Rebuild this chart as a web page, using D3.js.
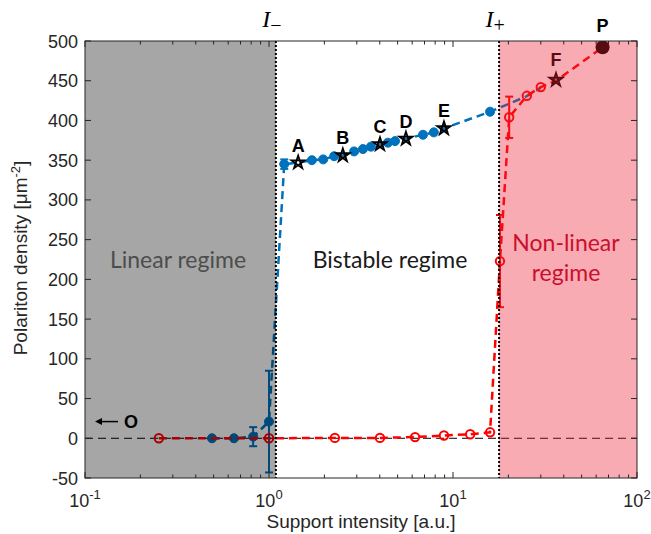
<!DOCTYPE html>
<html><head><meta charset="utf-8">
<script src="https://cdn.jsdelivr.net/npm/d3@7"></script>
<style>body{margin:0;background:#fff}</style>
</head><body><svg id="c" width="651" height="534"></svg>
<script>
// ---- data ----
const blueX = [0.49, 0.645, 0.82, 1.0, 1.21, 1.44, 1.71, 1.97, 2.26, 2.52, 2.90, 3.24, 3.58, 4.01, 4.43, 4.84, 5.55, 6.87, 7.87, 8.93, 15.9, 24.9, 30.0];
const blueY = [0, 0, 2, 21, 345, 347, 350, 351, 355, 356, 361, 364, 367, 370, 372, 374, 377, 382, 385, 390, 411, 430, 441];
const blueErr = [0, 0, 12, 64, 6, 0, 0, 0, 0, 0, 0, 0, 0, 0, 0, 0, 0, 0, 0, 0, 0, 0, 0];
const blueMarker = [1,1,1,1,1,0,1,1,1,0,1,1,1,0,1,1,0,1,1,0,1,0,0];
const redX = [0.252, 1.0, 2.28, 4.01, 6.22, 8.93, 12.4, 15.9, 18.0, 20.2, 25.2, 30.0, 36.3, 65];
const redY = [0, 0, 0.5, 0.5, 1.5, 3.5, 5, 7.5, 223, 404, 431, 442, 450, 492];
const redErr = [0, 0, 0, 0, 0, 0, 0, 0, 58, 26, 0, 0, 0, 0];
const redMarker = [1,1,1,1,1,1,1,1,1,1,1,1,0,0];
const starNames = ["A", "B", "C", "D", "E", "F"];
const starX = [1.44, 2.52, 4.01, 5.55, 8.93, 36.3];
const starY = [347, 356, 370, 377, 390, 451];
const pointP = {name: "P", x: 65, y: 492};
const Iminus = 1.09, Iplus = 17.8;
const xMajor = [0.1, 1, 10, 100];
const xExp = ["-1", "0", "1", "2"];
const yTicks = [-50, 0, 50, 100, 150, 200, 250, 300, 350, 400, 450, 500];

// ---- layout ----
const L = 85, R = 637, T = 41, B = 478;
const x = d3.scaleLog().domain([0.1, 100]).range([L, R]);
const y = d3.scaleLinear().domain([-50, 500]).range([B, T]);
const svg = d3.select("#c");
const ax = "#262626";
const BLUE = "#0072BD", RED = "#FF0000";
const font = "'Liberation Sans', Arial, Helvetica, sans-serif";

svg.append("defs").append("clipPath").attr("id", "pc")
  .append("rect").attr("x", L).attr("y", T).attr("width", R - L).attr("height", B - T);
const g = svg.append("g").attr("clip-path", "url(#pc)");

// zero line
g.append("line").attr("x1", L).attr("x2", R).attr("y1", y(0)).attr("y2", y(0))
  .attr("stroke", "#000").attr("stroke-width", 1).attr("stroke-dasharray", "8,5");

const line = d3.line().x(d => x(d[0])).y(d => y(d[1]));

// blue series
const bData = blueX.map((v, i) => [v, blueY[i], blueErr[i], blueMarker[i]]);
g.append("path").attr("d", line(bData)).attr("fill", "none").attr("stroke", BLUE)
  .attr("stroke-width", 2.5).attr("stroke-dasharray", "8,5");
bData.filter(d => d[2] > 0).forEach(d => {
  const eg = g.append("g").attr("stroke", BLUE).attr("stroke-width", 2);
  eg.append("line").attr("x1", x(d[0])).attr("x2", x(d[0])).attr("y1", y(d[1] - d[2])).attr("y2", y(d[1] + d[2]));
  [d[1] - d[2], d[1] + d[2]].forEach(v => eg.append("line").attr("x1", x(d[0]) - 4).attr("x2", x(d[0]) + 4).attr("y1", y(v)).attr("y2", y(v)));
});
g.selectAll(".bm").data(bData.filter(d => d[3])).join("circle")
  .attr("cx", d => x(d[0])).attr("cy", d => y(d[1])).attr("r", 4.5)
  .attr("fill", BLUE).attr("stroke", BLUE).attr("stroke-width", 1);

// red series
const rData = redX.map((v, i) => [v, redY[i], redErr[i], redMarker[i]]);
g.append("path").attr("d", line(rData)).attr("fill", "none").attr("stroke", RED)
  .attr("stroke-width", 2.5).attr("stroke-dasharray", "8,5");
rData.filter(d => d[2] > 0).forEach(d => {
  const eg = g.append("g").attr("stroke", RED).attr("stroke-width", 2);
  eg.append("line").attr("x1", x(d[0])).attr("x2", x(d[0])).attr("y1", y(d[1] - d[2])).attr("y2", y(d[1] + d[2]));
  [d[1] - d[2], d[1] + d[2]].forEach(v => eg.append("line").attr("x1", x(d[0]) - 4).attr("x2", x(d[0]) + 4).attr("y1", y(v)).attr("y2", y(v)));
});
g.selectAll(".rm").data(rData.filter(d => d[3])).join("circle")
  .attr("cx", d => x(d[0])).attr("cy", d => y(d[1])).attr("r", 4.2)
  .attr("fill", "none").attr("stroke", RED).attr("stroke-width", 2);

// stars
function starPath(cx, cy, r) {
  let p = "";
  for (let k = 0; k < 5; k++) {
    const a = (-90 + 144 * k) * Math.PI / 180;
    p += (k ? "L" : "M") + (cx + r * Math.cos(a)).toFixed(2) + "," + (cy + r * Math.sin(a)).toFixed(2);
  }
  return p + "Z";
}
starX.forEach((v, i) => {
  g.append("path").attr("d", starPath(x(v), y(starY[i]), 7))
    .attr("fill", "none").attr("stroke", "#000").attr("stroke-width", 1.8).attr("stroke-linejoin", "miter");
  svg.append("text").attr("x", x(v)).attr("y", y(starY[i]) - (i === 5 ? 14 : 11))
    .attr("text-anchor", "middle").attr("font-family", font).attr("font-weight", "bold")
    .attr("font-size", 18).attr("fill", "#000").text(starNames[i]);
});
// P
g.append("circle").attr("cx", x(pointP.x)).attr("cy", y(pointP.y)).attr("r", 7).attr("fill", "#000");

// overlays (semi-transparent regions)
const ov = svg.append("g");
ov.append("rect").attr("x", L).attr("y", T).attr("width", x(Iminus) - L).attr("height", B - T)
  .attr("fill", "rgba(0,0,0,0.35)");
ov.append("rect").attr("x", x(Iplus)).attr("y", T).attr("width", R - x(Iplus)).attr("height", B - T)
  .attr("fill", "rgba(239,30,51,0.373)");

// P label (outside plot)
svg.append("text").attr("x", x(pointP.x)).attr("y", y(pointP.y) - 15)
  .attr("text-anchor", "middle").attr("font-family", font).attr("font-weight", "bold")
  .attr("font-size", 18).attr("fill", "#000").text(pointP.name);

// threshold lines
[Iminus, Iplus].forEach(v => svg.append("line").attr("x1", x(v)).attr("x2", x(v)).attr("y1", T).attr("y2", B)
  .attr("stroke", "#000").attr("stroke-width", 2).attr("stroke-dasharray", "2,2"));

// O arrow
const oy = y(21);
svg.append("line").attr("x1", L + 14).attr("x2", L + 33).attr("y1", oy).attr("y2", oy).attr("stroke", "#000").attr("stroke-width", 1.5);
svg.append("path").attr("d", `M${L + 10},${oy} L${L + 17},${oy - 3.5} L${L + 17},${oy + 3.5} Z`).attr("fill", "#000");
svg.append("text").attr("x", L + 39).attr("y", oy + 6.5).attr("font-family", font).attr("font-weight", "bold")
  .attr("font-size", 18).attr("fill", "#000").text("O");

// regime labels
const rf = "Lato, 'Open Sans', sans-serif";
svg.append("text").attr("x", 178).attr("y", 268).attr("text-anchor", "middle").attr("font-family", rf)
  .attr("font-size", 23).attr("fill", "#4d4d4d").text("Linear regime");
svg.append("text").attr("x", 390).attr("y", 268).attr("text-anchor", "middle").attr("font-family", rf)
  .attr("font-size", 23).attr("fill", "#1a1a1a").text("Bistable regime");
const nl = svg.append("text").attr("x", 566).attr("text-anchor", "middle").attr("font-family", rf)
  .attr("font-size", 23).attr("fill", "#c8102e");
nl.append("tspan").attr("x", 566).attr("y", 251).text("Non-linear");
nl.append("tspan").attr("x", 566).attr("y", 281).text("regime");

// axes box
svg.append("rect").attr("x", L).attr("y", T).attr("width", R - L).attr("height", B - T)
  .attr("fill", "none").attr("stroke", ax).attr("stroke-width", 1);
// y ticks
yTicks.forEach(v => {
  svg.append("line").attr("x1", L).attr("x2", L + 6).attr("y1", y(v)).attr("y2", y(v)).attr("stroke", ax);
  svg.append("line").attr("x1", R).attr("x2", R - 6).attr("y1", y(v)).attr("y2", y(v)).attr("stroke", ax);
  svg.append("text").attr("x", L - 7).attr("y", y(v) + 6.5).attr("text-anchor", "end").attr("font-family", font)
    .attr("font-size", 18).attr("fill", ax).text(v);
});
// x ticks
xMajor.forEach((v, i) => {
  svg.append("line").attr("x1", x(v)).attr("x2", x(v)).attr("y1", B).attr("y2", B - 6).attr("stroke", ax);
  svg.append("line").attr("x1", x(v)).attr("x2", x(v)).attr("y1", T).attr("y2", T + 6).attr("stroke", ax);
  const t = svg.append("text").attr("x", x(v)).attr("y", 507).attr("text-anchor", "middle").attr("font-family", font)
    .attr("font-size", 18).attr("fill", ax);
  t.append("tspan").text("10");
  t.append("tspan").attr("dy", -8).attr("font-size", 13).text(xExp[i]);
  if (i < 3) {
    for (let m = 2; m <= 9; m++) {
      const mv = v * m;
      svg.append("line").attr("x1", x(mv)).attr("x2", x(mv)).attr("y1", B).attr("y2", B - 3.5).attr("stroke", ax);
      svg.append("line").attr("x1", x(mv)).attr("x2", x(mv)).attr("y1", T).attr("y2", T + 3.5).attr("stroke", ax);
    }
  }
});
// axis titles
svg.append("text").attr("x", 361).attr("y", 528).attr("text-anchor", "middle").attr("font-family", font)
  .attr("font-size", 19).attr("fill", ax).text("Support intensity [a.u.]");
const yt = svg.append("text").attr("transform", `translate(27,258) rotate(-90)`).attr("text-anchor", "middle")
  .attr("font-family", font).attr("font-size", 19).attr("fill", ax);
yt.append("tspan").text("Polariton density [μm");
yt.append("tspan").attr("dy", -7).attr("font-size", 13).text("-2");
yt.append("tspan").attr("dy", 7).text("]");

// I labels
const tf = "'Liberation Serif', 'Times New Roman', serif";
[[Iminus, "−"], [Iplus, "+"]].forEach(([v, s]) => {
  const t = svg.append("text").attr("x", x(v) - 4).attr("y", 27).attr("text-anchor", "middle")
    .attr("font-family", tf).attr("font-size", 24).attr("fill", "#000");
  t.append("tspan").attr("font-style", "italic").text("I");
  t.append("tspan").attr("dy", 5).attr("font-size", 20).text(s);
});
</script></body></html>
